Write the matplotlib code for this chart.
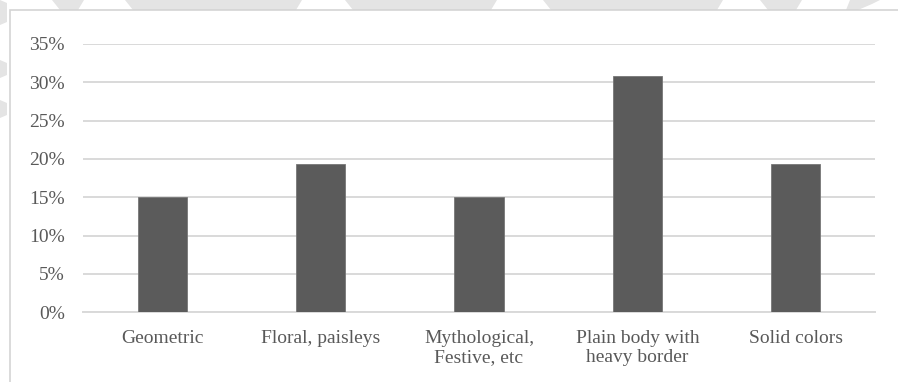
import matplotlib
matplotlib.use("Agg")
import matplotlib.pyplot as plt
from matplotlib.patches import Polygon, Rectangle

categories = ["Geometric", "Floral, paisleys", "Mythological,\nFestive, etc",
              "Plain body with\nheavy border", "Solid colors"]
shares = [15.0, 19.3, 15.0, 30.8, 19.3]
y_ticks = [0, 5, 10, 15, 20, 25, 30, 35]
y_tick_labels = ["0%", "5%", "10%", "15%", "20%", "25%", "30%", "35%"]

W, H = 898, 382
SERIF = "Liberation Serif"
TEXT_GRAY = "#595959"

fig = plt.figure(figsize=(W / 100, H / 100), dpi=100)
fig.patch.set_facecolor("white")

def px(x, y):
    return (x / W, 1 - y / H)

# faint background shapes along the top and left edges
blob_color = "#e4e4e4"
top_blobs = [(52, 84), (125, 302), (345, 497), (543, 723), (760, 802)]
for x0, x1 in top_blobs:
    pts = [px(x0, 0), px(x1, 0), px(x1 - 6, 10), px(x0 + 8, 10)]
    fig.patches.append(Polygon(pts, closed=True, transform=fig.transFigure,
                               facecolor=blob_color, edgecolor="none", zorder=0))
fig.patches.append(Polygon([px(850, 0), px(880, 0), px(872, 4), px(858, 10), px(846, 10)],
                           closed=True, transform=fig.transFigure,
                           facecolor=blob_color, edgecolor="none", zorder=0))
for y0, y1 in [(0, 25), (60, 78), (100, 118)]:
    pts = [px(0, y0), px(7, y0 + 3), px(7, y1 - 3), px(0, y1)]
    fig.patches.append(Polygon(pts, closed=True, transform=fig.transFigure,
                               facecolor=blob_color, edgecolor="none", zorder=0))

# chart frame
fig.patches.append(Rectangle(px(10, H + 5), (W + 10 - 10) / W, (H + 5 - 10) / H,
                             transform=fig.transFigure, facecolor="white",
                             edgecolor="#d4d4d4", linewidth=1.2, zorder=1))

left, right = 83 / W, 875 / W
bottom, top = 1 - 312.3 / H, 1 - 44 / H
ax = fig.add_axes([left, bottom, right - left, top - bottom])
ax.set_zorder(2)
ax.patch.set_visible(False)

x = list(range(len(categories)))
ax.bar(x, shares, width=0.31, color="#5b5b5b", edgecolor="#777777",
       linewidth=0.6, zorder=3)

ax.set_xlim(-0.5, len(categories) - 0.5)
ax.set_ylim(0, 35)
ax.set_yticks(y_ticks)
ax.set_yticklabels(y_tick_labels, fontfamily=SERIF, fontsize=14, color=TEXT_GRAY)
ax.set_xticks(x)
ax.set_xticklabels(categories, fontfamily=SERIF, fontsize=14, color=TEXT_GRAY,
                   linespacing=1.15)

ax.grid(axis="y", color="#d9d9d9", linewidth=1.4, zorder=0)
ax.set_axisbelow(True)
for side in ("top", "right", "left"):
    ax.spines[side].set_visible(False)
ax.spines["bottom"].set_color("#d9d9d9")
ax.spines["bottom"].set_linewidth(1.4)

ax.tick_params(axis="both", length=0)
ax.tick_params(axis="y", pad=13)
ax.tick_params(axis="x", pad=12.5)

fig.savefig("out.png", dpi=100, facecolor=fig.get_facecolor())
